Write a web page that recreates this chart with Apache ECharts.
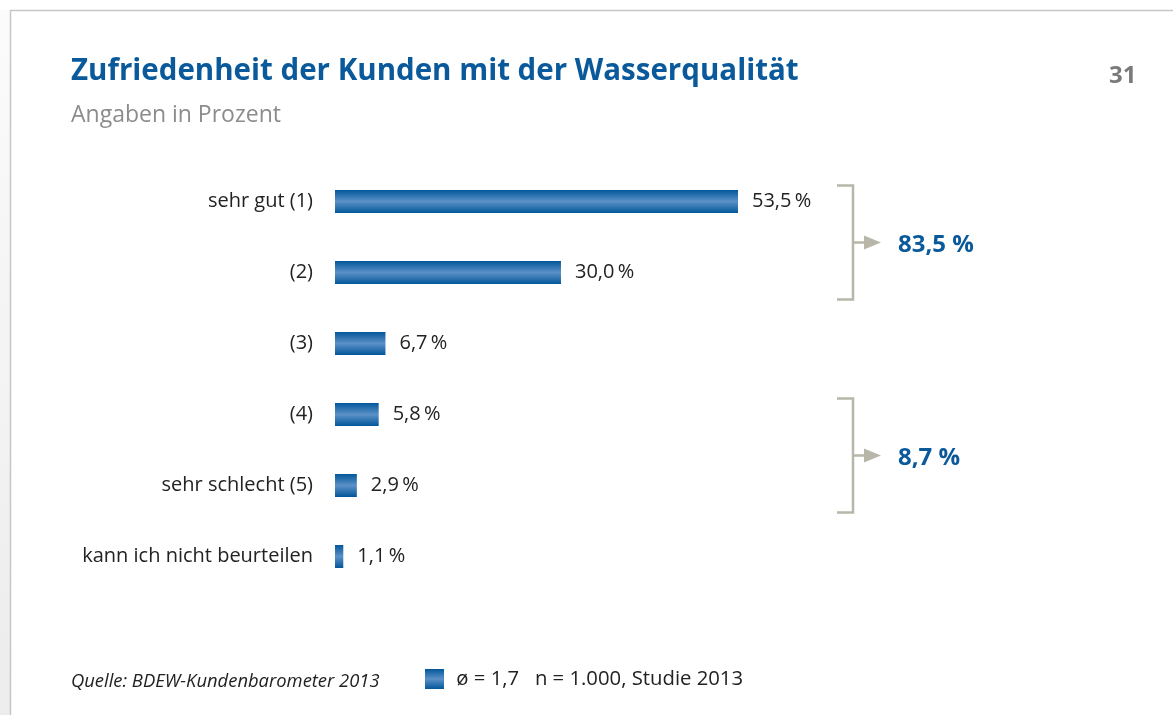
<!DOCTYPE html>
<html>
<head>
<meta charset="utf-8">
<script src="https://cdn.jsdelivr.net/npm/echarts@6/dist/echarts.min.js"></script>
<style>
html,body{margin:0;padding:0;background:#fff;}
#chart{width:1173px;height:715px;}
</style>
</head>
<body>
<div id="chart"></div>
<script>
//Daten
var kategorien = ['sehr gut (1)', '(2)', '(3)', '(4)', 'sehr schlecht (5)', 'kann ich nicht beurteilen'];
var werte = [53.5, 30.0, 6.7, 5.8, 2.9, 1.1];
var gruppen = [[0, 1], [3, 4]];   // zusammengefasste Zeilen (Klammer rechts)
var legendeText = 'ø = 1,7   n = 1.000, Studie 2013';
var quelle = 'Quelle: BDEW-Kundenbarometer 2013';

var blau = '#0a5a9b';
var grau = '#b8b6a9';
var schrift = '"Open Sans", "Noto Sans", sans-serif';

function fmt(v){
	return v.toFixed(1).replace('.', ',') + '\u2009%';
}

var chart = echarts.init(document.getElementById('chart'));

var balken = new echarts.graphic.LinearGradient(0, 0, 0, 1, [
	{offset: 0, color: '#02579a'},
	{offset: 0.5, color: '#5b90c7'},
	{offset: 1, color: '#02579a'}
]);

chart.setOption({
	animation: false,
	title: [
		{
			text: 'Zufriedenheit der Kunden mit der Wasserqualität',
			left: 71, top: 57, padding: 0,
			textStyle: {color: blau, fontSize: 29.5, fontWeight: 'bold', fontFamily: schrift}
		},
		{
			text: 'Angaben in Prozent',
			left: 71, top: 104, padding: 0,
			textStyle: {color: '#8c8c8c', fontSize: 23, fontWeight: 'normal', fontFamily: schrift}
		},
		{
			text: '31',
			left: 1109, top: 64, padding: 0,
			textStyle: {color: '#7a7a7a', fontSize: 24, fontWeight: 'bold', fontFamily: schrift}
		},
		{
			text: quelle,
			left: 71, top: 673, padding: 0,
			textStyle: {color: '#222', fontSize: 18.4, fontStyle: 'italic', fontWeight: 'normal', fontFamily: schrift}
		}
	],
	legend: {
		left: 425, top: 669, padding: 0,
		icon: 'rect',
		itemWidth: 19, itemHeight: 20,
		data: [legendeText],
		formatter: function(n){ return ' \u200A' + n; },
		textStyle: {color: '#222', fontSize: 20.3, fontFamily: schrift}
	},
	grid: {
		left: 335,
		top: 166,
		width: 602.6,
		height: 426,
		containLabel: false
	},
	xAxis: {
		type: 'value',
		min: 0, max: 80,
		show: false
	},
	yAxis: {
		type: 'category',
		inverse: true,
		data: kategorien,
		axisLine: {show: false},
		axisTick: {show: false},
		axisLabel: {
			margin: 22,
			color: '#222',
			fontSize: 20,
			fontFamily: schrift
		}
	},
	series: [{
		name: legendeText,
		type: 'bar',
		data: werte,
		barWidth: 23,
		itemStyle: {color: balken},
		label: {
			show: true,
			position: 'right',
			distance: 14,
			color: '#222',
			fontSize: 20,
			fontFamily: schrift,
			formatter: function(p){ return fmt(p.value); }
		}
	}]
});

// Rahmen, Klammern und Summen
function zeichneExtras(){
	var els = [];
	// grauer Rand links + Rahmenlinie
	els.push({type: 'rect', shape: {x: 0, y: 10, width: 10, height: 705}, style: {fill: new echarts.graphic.LinearGradient(0, 0, 0, 1, [{offset: 0, color: '#fbfbfb'}, {offset: 1, color: '#ececec'}])}, silent: true});
	els.push({type: 'polyline', shape: {points: [[10.5, 715], [10.5, 10.5], [1173, 10.5]]}, style: {stroke: '#c6c6c6', lineWidth: 1.5, fill: null}, silent: true});

	var bx = 853, kurz = 16;
	gruppen.forEach(function(g){
		var y0 = chart.convertToPixel({yAxisIndex: 0}, kategorien[g[0]]) - 16;
		var y1 = chart.convertToPixel({yAxisIndex: 0}, kategorien[g[g.length - 1]]) + 27;
		var ym = (y0 + y1) / 2;
		var summe = 0;
		g.forEach(function(i){ summe += werte[i]; });
		els.push({type: 'polyline', shape: {points: [[bx - kurz, y0], [bx, y0], [bx, y1], [bx - kurz, y1]]}, style: {stroke: grau, lineWidth: 2.5, fill: null}});
		els.push({type: 'line', shape: {x1: bx, y1: ym, x2: 866, y2: ym}, style: {stroke: grau, lineWidth: 2.5}});
		els.push({type: 'polygon', shape: {points: [[864, ym - 7], [881, ym], [864, ym + 7]]}, style: {fill: grau}});
		els.push({type: 'text', x: 898, y: ym + 3, style: {text: summe.toFixed(1).replace('.', ',') + ' %', fill: blau, font: 'bold 24px ' + schrift, verticalAlign: 'middle'}});
	});
	chart.setOption({graphic: els});
}
zeichneExtras();
</script>
</body>
</html>
